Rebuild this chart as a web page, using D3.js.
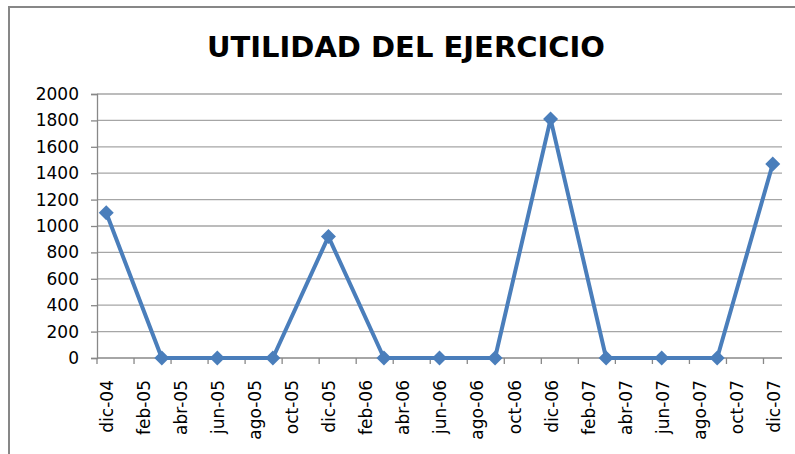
<!DOCTYPE html>
<html>
<head>
<meta charset="utf-8">
<script src="https://cdn.jsdelivr.net/npm/d3@7"></script>
<style>
  body { margin: 0; background: #fff; }
  text { font-family: "DejaVu Sans", sans-serif; fill: #000; }
</style>
</head>
<body>
<div id="chart"></div>
<script>
// Data: quarterly values (months are month-starts)
const months = [
  "2004-12", "2005-03", "2005-06", "2005-09",
  "2005-12", "2006-03", "2006-06", "2006-09",
  "2006-12", "2007-03", "2007-06", "2007-09",
  "2007-12",
];
const values = [1100, 0, 0, 0, 920, 0, 0, 0, 1810, 0, 0, 0, 1470];

// Axis labels, every two months from dic-04
const tickLabels = [
  "dic-04", "feb-05", "abr-05", "jun-05", "ago-05", "oct-05", "dic-05",
  "feb-06", "abr-06", "jun-06", "ago-06", "oct-06", "dic-06",
  "feb-07", "abr-07", "jun-07", "ago-07", "oct-07", "dic-07",
];
const yTicks = [0, 200, 400, 600, 800, 1000, 1200, 1400, 1600, 1800, 2000];

const W = 795, H = 454;
const margin = { top: 94, right: 13, bottom: 96, left: 97 };
const width = W - margin.left - margin.right,
  height = H - margin.top - margin.bottom;

const parse = d3.timeParse("%Y-%m");
const start = parse(months[0]);
const data = months.map((m, i) => ({
  idx: d3.timeMonth.count(start, parse(m)),
  value: values[i],
}));

const svg = d3
  .select("#chart")
  .append("svg")
  .attr("width", W)
  .attr("height", H);

// outer frame (top and left edges visible)
svg.append("path")
  .attr("d", "M9,454V7H795")
  .attr("fill", "none")
  .attr("stroke", "#878787")
  .attr("stroke-width", 2);

svg.append("text")
  .attr("x", 406)
  .attr("y", 57)
  .attr("text-anchor", "middle")
  .style("font-weight", "bold")
  .style("font-size", "29px")
  .text("UTILIDAD DEL EJERCICIO");

const g = svg.append("g")
  .attr("transform", `translate(${margin.left},${margin.top})`);

// months: 37 month slots from dic-04 to dic-07
const nMonths = tickLabels.length * 2 - 1;
const x = d3.scaleLinear().domain([0, nMonths]).range([0, width]);
const y = d3.scaleLinear().domain([0, 2000]).range([height, 0]);

// gridlines
g.append("g")
  .selectAll("line")
  .data(yTicks.slice(1))
  .join("line")
  .attr("x1", 0)
  .attr("x2", width)
  .attr("y1", (d) => y(d))
  .attr("y2", (d) => y(d))
  .attr("stroke", "#a6a6a6")
  .attr("stroke-width", 1.3);

// y axis
const yAxis = g.append("g")
  .call(d3.axisLeft(y).tickValues(yTicks).tickFormat(d3.format("d")).tickSize(6).tickPadding(12));
yAxis.selectAll("line, path").attr("stroke", "#888").attr("stroke-width", 1.3);
yAxis.selectAll("text").style("font-size", "17px").attr("fill", "#000");

// x axis: ticks every two months, labels centred on the month
const tickIdx = tickLabels.map((_, i) => i * 2);
const xAxis = g.append("g").attr("transform", `translate(0,${height})`);
xAxis.append("line")
  .attr("x1", 0).attr("x2", width)
  .attr("stroke", "#888").attr("stroke-width", 1.3);
xAxis.selectAll(".tick")
  .data(tickIdx)
  .join("line")
  .attr("class", "tick")
  .attr("x1", (d) => x(d))
  .attr("x2", (d) => x(d))
  .attr("y1", 0)
  .attr("y2", 6)
  .attr("stroke", "#888")
  .attr("stroke-width", 1.3);
xAxis.selectAll(".lbl")
  .data(tickLabels)
  .join("text")
  .attr("class", "lbl")
  .attr("transform", (d, i) => `translate(${x(tickIdx[i] + 0.5) + 1},22) rotate(-90)`)
  .attr("dy", "0.35em")
  .attr("text-anchor", "end")
  .style("font-size", "17px")
  .text((d) => d);

// line + diamond markers
const blue = "#4a7ebb";
g.append("path")
  .datum(data)
  .attr("fill", "none")
  .attr("stroke", blue)
  .attr("stroke-width", 4)
  .attr("stroke-linejoin", "round")
  .attr("d", d3.line().x((d) => x(d.idx + 0.5)).y((d) => y(d.value)));

g.selectAll(".pt")
  .data(data)
  .join("path")
  .attr("class", "pt")
  .attr("transform", (d) => `translate(${x(d.idx + 0.5)},${y(d.value)})`)
  .attr("d", "M0,-7.5L7.5,0L0,7.5L-7.5,0Z")
  .attr("fill", blue);
</script>
</body>
</html>
